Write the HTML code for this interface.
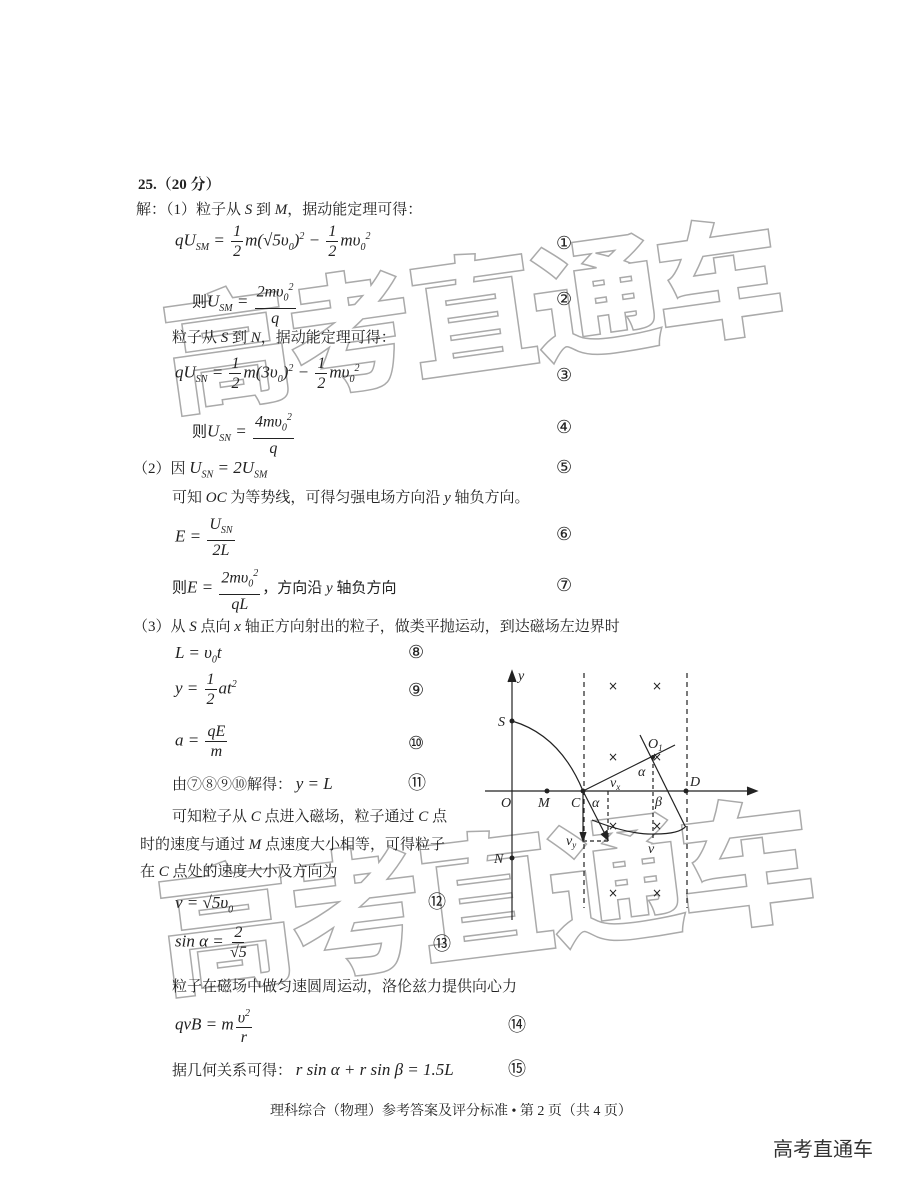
<!DOCTYPE html>
<html><head><meta charset="utf-8"><style>
body{margin:0;background:#fff;}
#p{position:relative;width:900px;height:1182px;overflow:hidden;background:#fff;font-family:"Liberation Serif","Noto Serif CJK SC",serif;color:#222;font-size:15px;}
.t{position:absolute;white-space:nowrap;line-height:20px;}
.m{font-style:italic;font-family:"Liberation Serif",serif;font-size:17px;}
.fr{display:inline-flex;flex-direction:column;align-items:center;vertical-align:middle;font-size:16px;line-height:19px;margin:0 2px;}
.fr .n{border-bottom:1px solid #222;padding:0 2px;}
.c{position:absolute;font-size:18px;line-height:20px;font-family:"DejaVu Sans",sans-serif;}
sub,sup{font-size:10px;}
.wm{position:absolute;font-family:"Noto Sans CJK SC",sans-serif;font-weight:900;color:rgba(255,255,255,0);-webkit-text-stroke:1.5px #aaa;white-space:nowrap;}
</style></head><body><div id="p">

<div class="wm" style="left:160px;top:215px;font-size:128px;transform:rotate(-8deg);letter-spacing:-4px;">高考直通车</div>
<div class="wm" style="left:155px;top:790px;font-size:136px;transform:rotate(-7deg);letter-spacing:-5px;">高考直通车</div>

<div class="t" style="left:138px;top:175px;font-weight:bold;">25.（20 分）</div>
<div class="t" style="left:136px;top:200px;">解：（1）粒子从 <i>S</i> 到 <i>M</i>，据动能定理可得：</div>

<div class="t m" style="left:175px;top:222px;">qU<sub>SM</sub> = <span class="fr"><span class="n">1</span><span>2</span></span>m(√5υ<sub>0</sub>)<sup>2</sup> − <span class="fr"><span class="n">1</span><span>2</span></span>mυ<sub>0</sub><sup>2</sup></div>
<div class="c" style="left:556px;top:234px;">①</div>

<div class="t m" style="left:192px;top:278px;"><span style="font-style:normal;font-size:15px">则</span>U<sub>SM</sub> = <span class="fr"><span class="n">2mυ<sub>0</sub><sup>2</sup></span><span>q</span></span></div>
<div class="c" style="left:556px;top:290px;">②</div>

<div class="t" style="left:172px;top:328px;">粒子从 <i>S</i> 到 <i>N</i>，据动能定理可得：</div>
<div class="t m" style="left:175px;top:354px;">qU<sub>SN</sub> = <span class="fr"><span class="n">1</span><span>2</span></span>m(3υ<sub>0</sub>)<sup>2</sup> − <span class="fr"><span class="n">1</span><span>2</span></span>mυ<sub>0</sub><sup>2</sup></div>
<div class="c" style="left:556px;top:366px;">③</div>

<div class="t m" style="left:192px;top:408px;"><span style="font-style:normal;font-size:15px">则</span>U<sub>SN</sub> = <span class="fr"><span class="n">4mυ<sub>0</sub><sup>2</sup></span><span>q</span></span></div>
<div class="c" style="left:556px;top:418px;">④</div>

<div class="t" style="left:133px;top:458px;">（2）因 <span class="m">U<sub>SN</sub> = 2U<sub>SM</sub></span></div>
<div class="c" style="left:556px;top:458px;">⑤</div>
<div class="t" style="left:172px;top:488px;">可知 <i>OC</i> 为等势线，可得匀强电场方向沿 <i>y</i> 轴负方向。</div>

<div class="t m" style="left:175px;top:515px;">E = <span class="fr"><span class="n">U<sub>SN</sub></span><span>2L</span></span></div>
<div class="c" style="left:556px;top:525px;">⑥</div>

<div class="t m" style="left:172px;top:564px;"><span style="font-style:normal;font-size:15px">则</span>E = <span class="fr"><span class="n">2mυ<sub>0</sub><sup>2</sup></span><span>qL</span></span><span style="font-style:normal;font-size:15px">，方向沿 <i>y</i> 轴负方向</span></div>
<div class="c" style="left:556px;top:576px;">⑦</div>

<div class="t" style="left:133px;top:617px;">（3）从 <i>S</i> 点向 <i>x</i> 轴正方向射出的粒子，做类平抛运动，到达磁场左边界时</div>
<div class="t m" style="left:175px;top:643px;">L = υ<sub>0</sub>t</div>
<div class="c" style="left:408px;top:643px;">⑧</div>
<div class="t m" style="left:175px;top:670px;">y = <span class="fr"><span class="n">1</span><span>2</span></span>at<sup>2</sup></div>
<div class="c" style="left:408px;top:681px;">⑨</div>
<div class="t m" style="left:175px;top:722px;">a = <span class="fr"><span class="n">qE</span><span>m</span></span></div>
<div class="c" style="left:408px;top:734px;">⑩</div>
<div class="t" style="left:172px;top:774px;">由⑦⑧⑨⑩解得： <span class="m">y = L</span></div>
<div class="c" style="left:408px;top:774px;">⑪</div>

<div class="t" style="left:172px;top:807px;">可知粒子从 <i>C</i> 点进入磁场，粒子通过 <i>C</i> 点</div>
<div class="t" style="left:140px;top:835px;">时的速度与通过 <i>M</i> 点速度大小相等，可得粒子</div>
<div class="t" style="left:140px;top:862px;">在 <i>C</i> 点处的速度大小及方向为</div>
<div class="t m" style="left:175px;top:893px;">v = √5υ<sub>0</sub></div>
<div class="c" style="left:428px;top:893px;">⑫</div>
<div class="t m" style="left:175px;top:923px;">sin α = <span class="fr"><span class="n">2</span><span>√5</span></span></div>
<div class="c" style="left:433px;top:935px;">⑬</div>
<div class="t" style="left:172px;top:977px;">粒子在磁场中做匀速圆周运动，洛伦兹力提供向心力</div>
<div class="t m" style="left:175px;top:1004px;">qvB = m<span class="fr"><span class="n">υ<sup>2</sup></span><span>r</span></span></div>
<div class="c" style="left:508px;top:1016px;">⑭</div>
<div class="t" style="left:172px;top:1060px;">据几何关系可得： <span class="m">r sin α + r sin β = 1.5L</span></div>
<div class="c" style="left:508px;top:1060px;">⑮</div>

<div class="t" style="left:270px;top:1102px;font-size:14px;">理科综合（物理）参考答案及评分标准 • 第 2 页（共 4 页）</div>
<div class="t" style="left:773px;top:1138px;font-size:20px;font-family:'Noto Sans CJK SC',sans-serif;color:#333;">高考直通车</div>

<svg style="position:absolute;left:0;top:0" width="900" height="1182" font-family="Liberation Serif" font-style="italic" font-size="14">
<g stroke="#222" fill="none" stroke-width="1.2">
<line x1="512" y1="920" x2="512" y2="673"/>
<path d="M508,682 L512,671 L516,682" fill="#222"/>
<line x1="485" y1="791" x2="755" y2="791"/>
<path d="M747,787 L757,791 L747,795" fill="#222"/>
<line x1="584" y1="673" x2="584" y2="908" stroke-dasharray="5,4"/>
<line x1="687" y1="673" x2="687" y2="908" stroke-dasharray="5,4"/>
<path d="M512,721 Q560,735 583,791"/>
<path d="M583,791 L675,745"/>
<line x1="640" y1="735" x2="685" y2="826"/>
<path d="M592,820 Q630,835 655,834 Q680,834 686,826"/>
<line x1="583" y1="791" x2="607" y2="838"/>
<path d="M601,834 L608,840 L607,830" fill="#222"/>
<line x1="583" y1="791" x2="583" y2="840"/>
<path d="M580,832 L583,841 L586,832" fill="#222"/>
<line x1="583" y1="841" x2="608" y2="841" stroke-dasharray="4,3"/>
<line x1="608" y1="791" x2="608" y2="841" stroke-dasharray="4,3"/>
<line x1="653" y1="757" x2="653" y2="838" stroke-dasharray="4,3"/>
</g>
<g fill="#222">
<circle cx="512" cy="721" r="2.5"/><circle cx="547" cy="791" r="2.5"/><circle cx="583" cy="791" r="2.5"/><circle cx="686" cy="791" r="2.5"/><circle cx="512" cy="858" r="2.5"/><circle cx="653" cy="757" r="2"/>
</g>
<g font-style="normal" font-family="DejaVu Sans" font-size="12" fill="#222" text-anchor="middle">
<text x="613" y="690">×</text><text x="657" y="690">×</text>
<text x="613" y="761">×</text><text x="657" y="761">×</text>
<text x="613" y="830">×</text><text x="657" y="830">×</text>
<text x="613" y="897">×</text><text x="657" y="897">×</text>
</g>
<g fill="#222">
<text x="518" y="680">y</text><text x="498" y="726">S</text><text x="501" y="807">O</text>
<text x="538" y="807">M</text><text x="571" y="807">C</text><text x="592" y="807">α</text>
<text x="690" y="786">D</text><text x="648" y="748">O<tspan font-size="9" dy="3">1</tspan></text>
<text x="638" y="776">α</text><text x="655" y="806">β</text>
<text x="610" y="787">v<tspan font-size="9" dy="3">x</tspan></text>
<text x="566" y="845">v<tspan font-size="9" dy="3">y</tspan></text>
<text x="648" y="853">v</text><text x="494" y="863">N</text>
</g>
</svg>
</div></body></html>
